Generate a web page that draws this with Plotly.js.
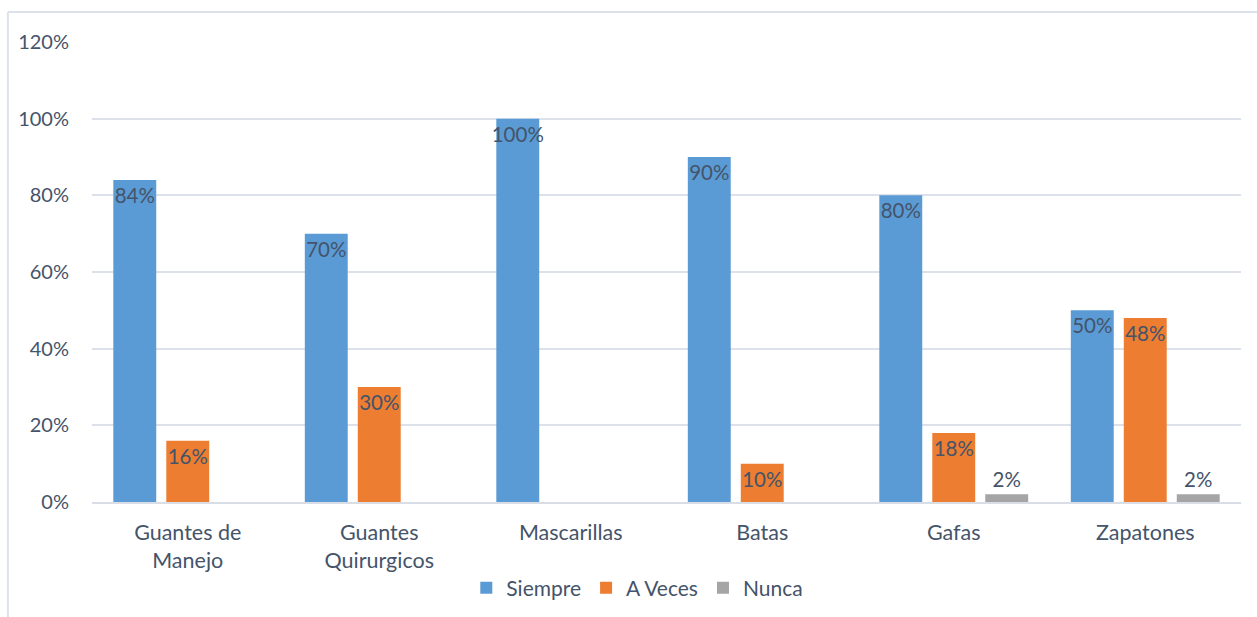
<!DOCTYPE html>
<html>
<head>
<meta charset="utf-8">
<script src="https://cdn.plot.ly/plotly-3.0.1.min.js"></script>
<style>html,body{margin:0;padding:0;background:#fff;}#chart{width:1257px;height:617px;}</style>
</head>
<body>
<div id="chart"></div>
<script>
const categories = ["Guantes de<br>Manejo", "Guantes<br>Quirurgicos", "Mascarillas", "Batas", "Gafas", "Zapatones"];
const siempre = [0.84, 0.70, 1.00, 0.90, 0.80, 0.50];
const aVeces = [0.16, 0.30, null, 0.10, 0.18, 0.48];
const nunca = [null, null, null, null, 0.02, 0.02];
const yTickVals = [0, 0.2, 0.4, 0.6, 0.8, 1.0, 1.2];
const yTickText = ["0%", "20%", "40%", "60%", "80%", "100%", "120%"];

const textColor = "#44546A";
const fontFamily = "Lato, 'Open Sans', sans-serif";

function barTrace(name, values, color, positions) {
  return {
    type: "bar",
    name: name,
    x: categories,
    y: values,
    marker: {color: color},
    texttemplate: "%{y:.0%}",
    textposition: positions,
    textangle: 0,
    insidetextanchor: "end",
    constraintext: "none",
    cliponaxis: false,
    textfont: {family: fontFamily, size: 20.5, color: textColor},
    hoverinfo: "none"
  };
}

const data = [
  barTrace("Siempre", siempre, "#5B9BD5", "inside"),
  barTrace("A Veces", aVeces, "#ED7D31", "inside"),
  barTrace("Nunca", nunca, "#A5A5A5", "outside")
];

const layout = {
  width: 1257,
  height: 617,
  paper_bgcolor: "#ffffff",
  plot_bgcolor: "#ffffff",
  margin: {l: 92, r: 16, t: 42, b: 115},
  barmode: "group",
  bargap: 0.17,
  bargroupgap: 0.19,
  font: {family: fontFamily, size: 20, color: textColor},
  showlegend: true,
  legend: {
    orientation: "h",
    xref: "container", yref: "container",
    x: 0.507, xanchor: "center",
    y: 0.047, yanchor: "middle",
    font: {family: fontFamily, size: 21, color: textColor},
    itemwidth: 30,
    traceorder: "normal"
  },
  xaxis: {
    type: "category",
    showgrid: false,
    showline: true,
    linecolor: "#D9DEE6",
    linewidth: 2,
    ticks: "",
    ticklabelstandoff: 10,
    tickfont: {family: fontFamily, size: 21.5, color: textColor},
    fixedrange: true
  },
  yaxis: {
    range: [0, 1.2],
    tickvals: yTickVals,
    ticktext: yTickText,
    showgrid: true,
    gridcolor: "#DDE2EA",
    gridwidth: 2,
    zeroline: false,
    showline: false,
    ticks: "",
    ticklabelstandoff: 22,
    tickfont: {family: fontFamily, size: 20, color: textColor},
    fixedrange: true
  },
  shapes: [
    {type: "line", xref: "paper", yref: "paper", x0: -0.0732, x1: 1.02, y0: 1.0652, y1: 1.0652, line: {color: "#DDE2EA", width: 2}},
    {type: "line", xref: "paper", yref: "paper", x0: -0.0732, x1: -0.0732, y0: 1.0652, y1: -0.26, line: {color: "#DDE2EA", width: 2}}
  ]
};

Plotly.newPlot("chart", data, layout, {displayModeBar: false, staticPlot: true});
</script>
</body>
</html>
